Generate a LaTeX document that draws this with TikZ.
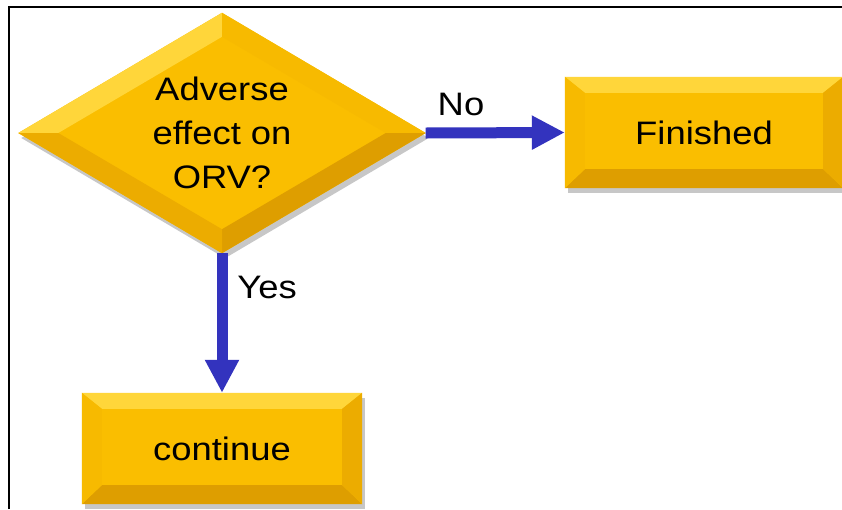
\documentclass[tikz,border=0pt]{standalone}
\usepackage{fontspec}
\setmainfont{Liberation Sans}[FakeStretch=1.12]
\usetikzlibrary{arrows.meta,calc,backgrounds,shapes.geometric}
\definecolor{face}{RGB}{250,190,0}
\definecolor{bevtop}{RGB}{255,214,58}
\definecolor{bevleft}{RGB}{247,186,0}
\definecolor{bevright}{RGB}{236,172,0}
\definecolor{bevbot}{RGB}{222,158,0}
\definecolor{arrowblue}{RGB}{51,51,190}
\newcommand\bevelrect[1]{%
  \fill[black,opacity=0.22] ($(#1.north west)+(3,5)$) rectangle ($(#1.south east)+(3,5)$);
  \fill[face] (#1.north west) rectangle (#1.south east);
  \fill[bevtop] (#1.north west) -- (#1.north east) -- ($(#1.north east)+(-20,16)$) -- ($(#1.north west)+(20,16)$) -- cycle;
  \fill[bevbot] (#1.south west) -- (#1.south east) -- ($(#1.south east)+(-20,-19)$) -- ($(#1.south west)+(20,-19)$) -- cycle;
  \fill[bevleft] (#1.north west) -- ($(#1.north west)+(20,16)$) -- ($(#1.south west)+(20,-19)$) -- (#1.south west) -- cycle;
  \fill[bevright] (#1.north east) -- ($(#1.north east)+(-20,16)$) -- ($(#1.south east)+(-20,-19)$) -- (#1.south east) -- cycle;
}
\begin{document}
\begin{tikzpicture}[x=1pt,y=-1pt,
  txt/.style={font=\fontsize{32.5}{44}\selectfont, text=black},
  diam/.style={txt, shape=diamond, aspect=1.7, minimum width=407pt, minimum height=240pt, inner sep=0pt, align=center},
  boxst/.style={txt, shape=rectangle, inner sep=0pt},
  flow/.style={draw=arrowblue, line width=11pt, -{Triangle[length=33pt,width=32pt]}},
  lbl/.style={txt}]
\useasboundingbox (0,0) rectangle (842,509);
\node[diam] (q) at (222,133) {Adverse\\effect on\\ORV?};
\node[boxst, minimum width=278pt, minimum height=111pt] (fin) at (704,132.5) {Finished};
\node[boxst, minimum width=280pt, minimum height=111pt] (cont) at (222,448.5) {continue};
\begin{scope}[on background layer]
  \fill[white] (0,0) rectangle (842,509);
  % diamond with bevel
  \fill[black,opacity=0.22] ($(q.north)+(3,5)$) -- ($(q.east)+(3,5)$) -- ($(q.south)+(3,5)$) -- ($(q.west)+(3,5)$) -- cycle;
  \coordinate (qn) at ($(q.north)+(0,24)$);
  \coordinate (qe) at ($(q.east)+(-40,0)$);
  \coordinate (qs) at ($(q.south)+(0,-24)$);
  \coordinate (qw) at ($(q.west)+(40,0)$);
  \fill[face] (q.north) -- (q.east) -- (q.south) -- (q.west) -- cycle;
  \fill[bevtop] (q.north) -- (q.west) -- (qw) -- (qn) -- cycle;
  \fill[bevleft] (q.north) -- (q.east) -- (qe) -- (qn) -- cycle;
  \fill[bevbot] (q.east) -- (q.south) -- (qs) -- (qe) -- cycle;
  \fill[bevright] (q.south) -- (q.west) -- (qw) -- (qs) -- cycle;
  \bevelrect{fin}
  \bevelrect{cont}
\end{scope}
% frame
\draw[line width=2pt, black] (9,509) -- (9,7) -- (842,7);
% connectors
\draw[flow] (q.east) -- (fin.west);
\draw[flow] (q.south) -- (cont.north);
\node[lbl] (no) at (461,104) {No};
\node[lbl] (yes) at (267,287) {Yes};
\end{tikzpicture}
\end{document}
